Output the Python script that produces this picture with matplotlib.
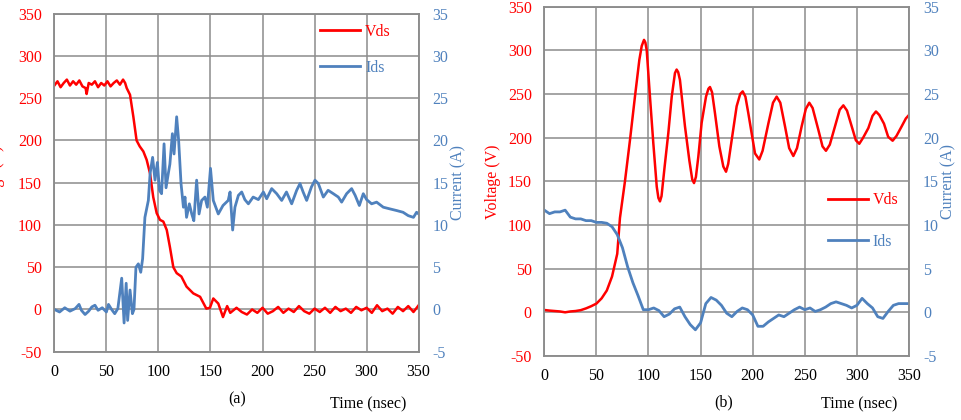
import matplotlib.pyplot as plt
from matplotlib.lines import Line2D

plt.rcParams['font.family'] = ['Liberation Serif', 'DejaVu Serif']
plt.rcParams['axes.unicode_minus'] = False

RED = '#ff0000'
BLUE = '#4f81bd'
GRID = '#8c8c8c'

# ---- panel (a): turn-off ----
t_a_v = [0, 3, 6, 9, 12, 15, 18, 21, 24, 27, 30, 31, 33, 36, 39, 42, 45, 48, 51, 54, 57, 60, 63, 66, 68,
         69.5, 72.7, 75.9, 79, 82, 85.5, 88.7, 91.9, 95, 98.3, 101.5, 104.7, 108, 111, 114.3, 117.5, 122,
         127, 133.5, 140, 146, 149.5, 152.7, 157.5, 162, 166, 169, 175, 180, 185, 190, 195, 200, 205, 210,
         215, 220, 225, 230, 235, 240, 245, 250, 255, 260, 265, 270, 275, 280, 285, 290, 295, 300, 305,
         310, 315, 320, 325, 330, 335, 340, 345, 350]
v_a = [265, 270, 263, 268, 272, 265, 270, 266, 271, 264, 262, 255, 268, 266, 270, 263, 268, 265, 270, 264,
       268, 271, 266, 272, 268,
       262, 254, 228, 200, 193, 187, 177, 161, 133, 114, 106, 104, 94, 74, 50, 43, 39,
       27, 19, 15, 1, 2, 13, 7, -9, 4, -4, 2, -3, -6, 0, -4, 2, -5, -2,
       3, -4, 1, -3, 4, -2, -5, 1, -3, 2, -4, 3, -2, 1, -4, 3, -1, 2, -4,
       5, -2, 1, -5, 3, -2, 4, -3, 5]

t_a_i = [0, 5, 10, 15, 20, 23.7, 26, 29.5, 33, 36, 39, 42, 46, 50, 52, 55, 58, 61, 64.7, 67, 69, 70.4,
         72.7, 75, 76.5, 78.4, 80.7, 83, 84.8, 87, 90.3, 92, 94.4, 96.7, 99, 101, 103, 105.4, 107.3,
         109.5, 111, 113.4, 115, 117.5, 119.4, 121.7, 124, 125.5, 127, 129.7, 132, 134, 136.7, 139,
         141.5, 144.7, 147, 150, 152.7, 157.5, 162, 167, 168.8, 171.3, 173.5, 176.8, 180, 183, 186.4,
         191, 196, 200.8, 204, 208.8, 213.6, 218.4, 223, 228, 232.8, 236, 239, 242.4, 247, 250.4, 253.6,
         258.4, 263, 268, 272.8, 276, 280.8, 285.6, 289, 293, 296.8, 300, 304.8, 309.6, 316, 322.4, 329,
         335, 340, 345, 348, 350]
i_a = [0, -0.3, 0.2, -0.2, 0.1, 0.6, -0.1, -0.6, -0.2, 0.3, 0.5, -0.1, 0.2, -0.3, 0.6, 0.0, -0.5, 0.1,
       3.7, -1.6, 3.1, -1.3,
       2.3, -0.5, 0.0, 5.0, 5.4, 4.4, 6.0, 10.9, 12.9, 16.1, 18.0, 15.3, 17.4, 14.1, 13.7, 19.6, 14.4,
       16.1, 17.2, 20.8, 18.4, 22.8, 20.0, 14.9, 12.1, 13.3, 10.9, 12.5, 11.3, 10.5, 15.3, 11.3,
       12.9, 13.3, 12.1, 16.7, 12.9, 11.3, 12.3, 12.9, 13.9, 9.4, 12.1, 13.5, 13.9, 13.0, 12.5,
       13.3, 13.0, 13.9, 13.1, 14.3, 13.7, 12.9, 13.9, 12.5, 14.1, 14.9, 13.9, 12.9, 14.5, 15.3, 14.9,
       13.3, 14.1, 13.7, 13.3, 12.7, 13.7, 14.3, 13.5, 12.3, 13.7, 13.0, 12.5, 12.7, 12.1, 11.9, 11.7,
       11.5, 11.1, 10.9, 11.5, 11.3]

# ---- panel (b): turn-on ----
t_b_v = [0, 5, 10, 15, 20, 25, 30, 35, 40, 45, 50, 55, 60, 65, 70, 72.6, 77.4, 82.2, 87, 91.2, 93.5,
         95.7, 97, 98.3, 101.4, 104.6, 107.9, 109.5, 111, 112.5, 115.5, 119, 122.3, 125.4, 127, 128.5,
         130.2, 135, 139.2, 142, 143.7, 145.5, 147.8, 151, 155.2, 157.5, 159, 161, 163.8, 168, 171.8,
         174.4, 176.5, 179.8, 184.6, 188, 190.4, 193, 195.8, 199, 202.2, 206.3, 209.5, 215, 219.5, 223,
         226.5, 231, 235, 239, 242.5, 247, 251, 254.3, 257.5, 263, 267, 270.3, 274, 279, 283.5, 287,
         290.5, 295, 299, 302.3, 306, 311, 315, 318.3, 321.5, 326, 330, 334.3, 338, 343, 347, 350]
v_b = [2.7, 2, 1.5, 1, 0, 1, 1.5, 2.5, 4.5, 7, 10, 16, 25, 41, 67, 108, 150, 197, 247, 289, 305,
       312, 309, 300, 247, 194, 144, 131, 127, 133, 167, 205, 247, 274, 278, 275,
       266, 213, 174, 152, 148, 155, 178, 217, 247, 256, 258, 252, 228, 190, 167,
       161, 170, 197, 236, 250, 253, 247, 228, 205, 182, 175, 185, 216, 240, 247,
       240, 213, 188, 179, 188, 213, 233, 240, 234, 209, 190, 185, 192, 213, 232, 237,
       231, 213, 197, 193, 200, 211, 225, 230, 226, 216, 201, 196.5, 202, 213, 222, 226]

t_b_i = list(range(0, 351, 5))
i_b = [11.7, 11.3, 11.5, 11.5, 11.7, 10.9, 10.7, 10.7, 10.5, 10.5, 10.3, 10.3, 10.2, 9.8, 8.9, 7.4,
       5.2, 3.4, 1.9, 0.3, 0.3, 0.5, 0.2, -0.5, -0.2, 0.4, 0.6, -0.5, -1.4, -2.0, -1.2, 1.0, 1.7, 1.4,
       0.8, -0.1, -0.5, 0.1, 0.5, 0.3, -0.3, -1.6, -1.6, -1.1, -0.7, -0.3, -0.5, -0.1, 0.3, 0.6, 0.3,
       0.5, 0.1, 0.3, 0.6, 1.0, 1.2, 1.0, 0.8, 0.5, 0.8, 1.6, 1.0, 0.5, -0.5, -0.7, 0.1, 0.8, 1.0, 1.0,
       1.0]

v_ticks = list(range(-50, 351, 50))
i_ticks = list(range(-5, 36, 5))
t_ticks = list(range(0, 351, 50))

fig = plt.figure(figsize=(9.62, 4.2), dpi=100)


def panel(rect, tv, v, ti, i, leg_xy, leg_space, ylab_x):
    ax = fig.add_axes(rect)
    ax2 = ax.twinx()
    ax.plot(tv, v, color=RED, lw=1.8)
    ax2.plot(ti, i, color=BLUE, lw=2.0)
    ax.set_xlim(0, 350)
    ax.set_ylim(-50, 350)
    ax2.set_ylim(-5, 35)
    ax.set_xticks(t_ticks)
    ax.set_yticks(v_ticks)
    ax2.set_yticks(i_ticks)
    ax.grid(True, color=GRID, lw=1.1)
    for a in (ax, ax2):
        for s in a.spines.values():
            s.set_color(GRID)
            s.set_linewidth(1.1)
    ax.tick_params(axis='y', length=0, pad=9, labelsize=11.5, labelcolor=RED)
    ax.tick_params(axis='x', length=0, pad=9, labelsize=11.5)
    ax2.tick_params(axis='y', length=0, pad=10, labelsize=11.5, labelcolor=BLUE)
    ax.set_ylabel('Voltage (V)', color=RED, fontsize=11.5)
    ax.yaxis.set_label_coords(ylab_x, 0.5)
    ax2.set_ylabel('Current (A)', color=BLUE, fontsize=11.5)
    ax2.yaxis.set_label_coords(1.086, 0.5)
    handles = [Line2D([], [], color=RED, lw=2.0), Line2D([], [], color=BLUE, lw=2.0)]
    ax.legend(handles, ['Vds', 'Ids'], loc='center', bbox_to_anchor=leg_xy, frameon=False,
              fontsize=11.5, handlelength=2.5, handletextpad=0.3, labelspacing=leg_space,
              labelcolor=[RED, BLUE])
    return ax


panel([0.0565, 0.1626, 0.3787, 0.8048], t_a_v, v_a, t_a_i, i_a, (0.827, 0.894), 1.25, -0.135)
panel([0.5658, 0.1524, 0.3791, 0.8317], t_b_v, v_b, t_b_i, i_b, (0.875, 0.3865), 1.6, -0.119)

fig.text(0.246, 0.05, '(a)', ha='center', va='center', fontsize=11.5)
fig.text(0.383, 0.038, 'Time (nsec)', ha='center', va='center', fontsize=11.5)
fig.text(0.7526, 0.043, '(b)', ha='center', va='center', fontsize=11.5)
fig.text(0.893, 0.036, 'Time (nsec)', ha='center', va='center', fontsize=11.5)

fig.savefig('out.png', dpi=100)
